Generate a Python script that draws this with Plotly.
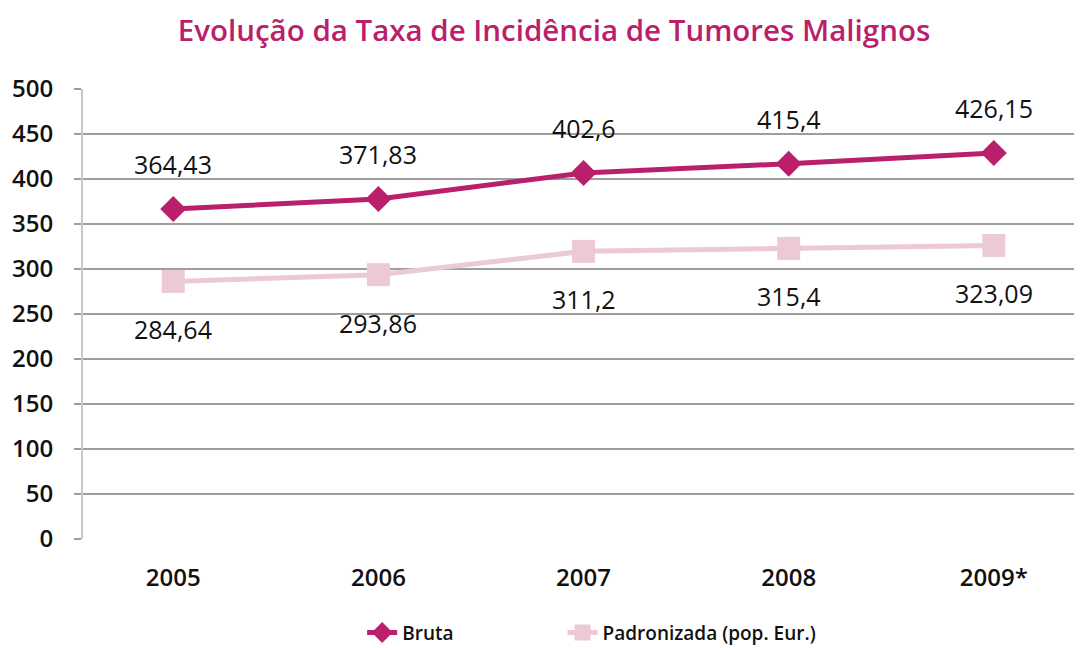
import plotly.graph_objects as go

# ---- data ----
years = ["2005", "2006", "2007", "2008", "2009*"]
bruta_values = [366.7, 377.8, 406.7, 417.0, 428.9]
bruta_labels = ["364,43", "371,83", "402,6", "415,4", "426,15"]
padron_values = [286.2, 293.7, 319.6, 322.9, 326.2]
padron_labels = ["284,64", "293,86", "311,2", "315,4", "323,09"]
y_ticks = [0, 50, 100, 150, 200, 250, 300, 350, 400, 450, 500]

MAGENTA = "#BA1F6B"
PINK = "#EBCAD3"
FONT = "Open Sans"

fig = go.Figure()
fig.add_trace(go.Scatter(
    x=years, y=bruta_values, name="Bruta", mode="lines+markers",
    line=dict(color=MAGENTA, width=5),
    marker=dict(symbol="diamond", size=20, color=MAGENTA),
    legend="legend",
))
fig.add_trace(go.Scatter(
    x=years, y=padron_values, name="Padronizada (pop. Eur.)", mode="lines+markers",
    line=dict(color=PINK, width=5),
    marker=dict(symbol="square", size=23, color=PINK),
    legend="legend2",
))

label_font = dict(family=FONT, size=25, color="#111111", weight=500)
for i, (v, t) in enumerate(zip(bruta_values, bruta_labels)):
    fig.add_annotation(x=i, y=v, text=t, showarrow=False, yshift=45, font=label_font)
for i, (v, t) in enumerate(zip(padron_values, padron_labels)):
    fig.add_annotation(x=i, y=v, text=t, showarrow=False, yshift=-48, font=label_font)

legend_font = dict(family=FONT, size=19, color="#111111", weight=600)
fig.update_layout(
    width=1074, height=640,
    margin=dict(l=75, r=2, t=81, b=109, autoexpand=False),
    plot_bgcolor="white", paper_bgcolor="white",
    font=dict(family=FONT, color="#111111"),
    title=dict(text="Evolução da Taxa de Incidência de Tumores Malignos",
               x=0.5084, xanchor="center", y=0.964, yanchor="middle",
               font=dict(family=FONT, size=29.5, color=MAGENTA, weight=600)),
    showlegend=True,
    legend=dict(orientation="h", x=0.280, xanchor="left",
                yref="container", y=0.024, yanchor="middle",
                font=legend_font, bgcolor="rgba(0,0,0,0)"),
    legend2=dict(orientation="h", x=0.481, xanchor="left",
                 yref="container", y=0.024, yanchor="middle",
                 font=legend_font, bgcolor="rgba(0,0,0,0)"),
    xaxis=dict(type="category", range=[-0.44, 4.42], showgrid=False,
               showline=False, zeroline=False, ticks="", automargin=False,
               tickfont=dict(family=FONT, size=24, color="#111111", weight=600),
               ticklabelstandoff=22),
    yaxis=dict(range=[0, 500], tickvals=y_ticks, showgrid=True,
               gridcolor="#9E9E9E", gridwidth=2, zeroline=False,
               showline=True, linecolor="#C8C8C8", linewidth=2,
               ticks="outside", ticklen=7, tickcolor="#9E9E9E", tickwidth=2,
               automargin=False,
               tickfont=dict(family=FONT, size=24, color="#111111", weight=600),
               ticklabelstandoff=16),
)
fig.write_html("out.html")
